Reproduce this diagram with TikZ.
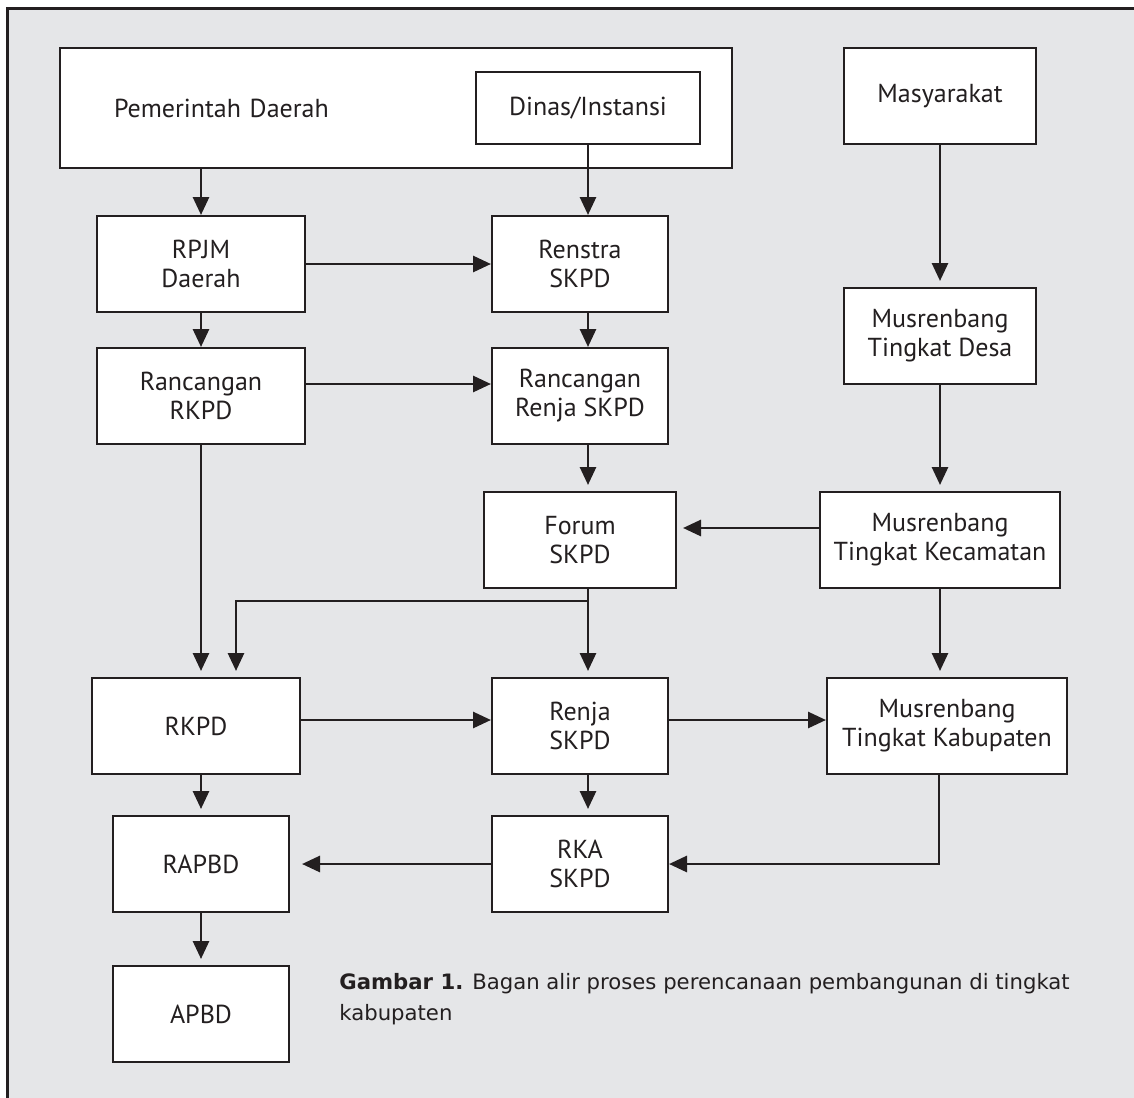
\documentclass[tikz,border=0pt]{standalone}
\usepackage{fontspec}
\setmainfont{PT Sans}
\newfontfamily\capfont{DejaVu Sans}
\usetikzlibrary{arrows.meta}
\definecolor{bggray}{HTML}{E5E6E8}
\definecolor{ink}{HTML}{231F20}
\tikzset{
  box/.style={draw=ink, line width=1pt, fill=white, text=ink, align=center,
    minimum height=48pt, inner sep=2pt, font=\fontsize{13}{14.5}\selectfont},
  arr/.style={draw=ink, line width=1.4pt, -{Triangle[length=9pt,width=8pt]}},
  gap/.style={shorten >=3pt}
}
\begin{document}
\begin{tikzpicture}[x=0.5pt,y=-0.5pt]
\useasboundingbox (0,0) rectangle (1134,1097);
\draw[draw=ink, line width=1.5pt, fill=bggray] (7,9) rectangle (1150,1120);

% top row
\node[box, minimum width=336pt, minimum height=60pt, text width=282pt, inner xsep=27pt, align=left] (pemda) at (396,108) {Pemerintah Daerah};
\node[box, minimum width=112pt, minimum height=36pt] (dinas) at (588,108) {Dinas/Instansi};
\node[box, minimum width=96pt] (masy) at (940,96) {Masyarakat};

\node[box, minimum width=104pt] (rpjm) at (201,264) {RPJM\\Daerah};
\node[box, minimum width=88pt] (renstra) at (580,264) {Renstra\\SKPD};
\node[box, minimum width=96pt] (desa) at (940,336) {Musrenbang\\Tingkat Desa};

\node[box, minimum width=104pt] (rrkpd) at (201,396) {Rancangan\\RKPD};
\node[box, minimum width=88pt] (rrenja) at (580,396) {Rancangan\\Renja SKPD};

\node[box, minimum width=96pt] (forum) at (580,540) {Forum\\SKPD};
\node[box, minimum width=120pt] (kec) at (940,540) {Musrenbang\\Tingkat Kecamatan};

\node[box, minimum width=104pt] (rkpd) at (196,726) {RKPD};
\node[box, minimum width=88pt] (renja) at (580,726) {Renja\\SKPD};
\node[box, minimum width=120pt] (kab) at (947,726) {Musrenbang\\Tingkat Kabupaten};

\node[box, minimum width=88pt] (rapbd) at (201,864) {RAPBD};
\node[box, minimum width=88pt] (rka) at (580,864) {RKA\\SKPD};
\node[box, minimum width=88pt] (apbd) at (201,1014) {APBD};

% caption
\node[anchor=north west, inner sep=0pt, align=left, text=ink,
  font=\capfont\fontsize{10.6}{15.5}\selectfont] (cap) at (339,973)
  {\textbf{Gambar 1.} Bagan alir proses perencanaan pembangunan di tingkat\\kabupaten};

% arrows
\draw[arr] (pemda.south -| rpjm.north) -- (rpjm.north);
\draw[arr] (dinas.south) -- (dinas.south |- renstra.north);
\draw[arr] (rpjm.east) -- (renstra.west);
\draw[arr] (rpjm.south) -- (rrkpd.north);
\draw[arr] ([xshift=4pt]renstra.south) -- ([xshift=4pt]rrenja.north);
\draw[arr] ([yshift=6pt]rrkpd.east) -- ([yshift=6pt]rrenja.west);
\draw[arr, gap] ([xshift=4pt]rrenja.south) -- ([xshift=4pt]rrenja.south |- forum.north);
\draw[arr, gap] (masy.south) -- (desa.north);
\draw[arr, gap] (desa.south) -- (kec.north);
\draw[arr, gap] ([yshift=6pt]kec.west) -- ([yshift=6pt]forum.east);
\draw[arr, gap] (kec.south) -- (kec.south |- kab.north);
\draw[arr, gap] (rrkpd.south) -- (rrkpd.south |- rkpd.north);
\draw[arr, gap] ([xshift=4pt]forum.south) -- ([xshift=4pt]forum.south |- renja.north);
\draw[arr, gap] ([xshift=4pt,yshift=-6pt]forum.south) -| ([xshift=20pt]rkpd.north);
\draw[arr] ([yshift=3pt]rkpd.east) -- ([yshift=3pt]renja.west);
\draw[arr] ([yshift=3pt]renja.east) -- ([yshift=3pt]kab.west);
\draw[arr, gap] (rapbd.north |- rkpd.south) -- (rapbd.north);
\draw[arr, gap] ([xshift=4pt]renja.south) -- ([xshift=4pt]rka.north);
\draw[arr, shorten >=6pt] (rka.west) -- (rapbd.east);
\draw[arr] ([xshift=-4pt]kab.south) |- (rka.east);
\draw[arr, gap] (rapbd.south) -- (apbd.north);
\end{tikzpicture}
\end{document}
